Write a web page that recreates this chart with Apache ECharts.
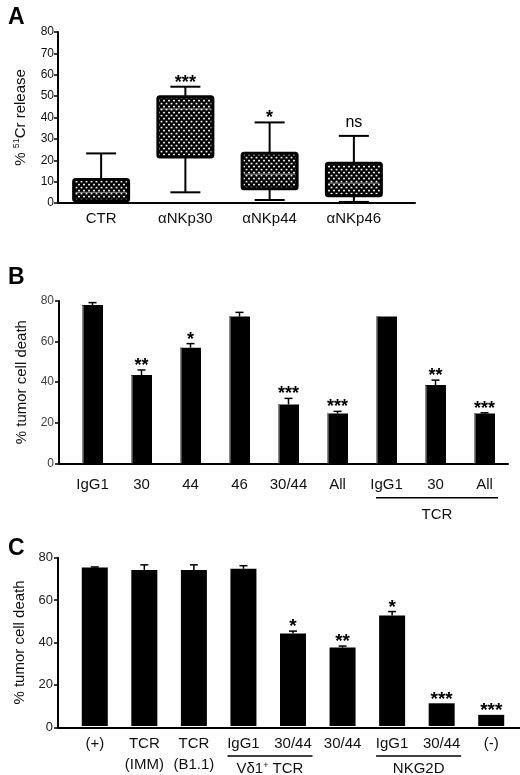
<!DOCTYPE html>
<html><head><meta charset="utf-8">
<script src="https://cdn.jsdelivr.net/npm/echarts@6/dist/echarts.min.js"></script>
<style>html,body{margin:0;padding:0;background:#fff}#c{width:520px;height:775px}</style>
</head><body><div id="c"></div>
<script>
// ---------- Panel A (box plots: [min, Q1, median, Q3, max]) ----------
const catsA = ['CTR', 'αNKp30', 'αNKp44', 'αNKp46'];
const boxA = [
  [0, 1, 5, 11, 23.2],
  [5, 21.5, 44, 49.7, 54.4],
  [1.4, 6.7, 13.5, 23.3, 37.7],
  [0.5, 3.4, 9.3, 18.6, 31.4]
];
const sigA = ['', '***', '*', 'ns'];
const yMaxA = 80, yStepA = 10;

// ---------- Panel B ----------
const catsB = ['IgG1', '30', '44', '46', '30/44', 'All', 'IgG1', '30', 'All'];
const valsB = [78, 43.5, 57, 72.3, 29, 24.5, 72.4, 38.6, 24.5];
const errB  = [1.2, 2.5, 2, 2.1, 3, 1.1, 0, 2.4, 0.4];
const sigB  = ['', '**', '*', '', '***', '***', '', '**', '***'];
const groupsB = [{ label: 'TCR', from: 6, to: 8 }];
const yMaxB = 80, yStepB = 20;

// ---------- Panel C ----------
const catsC = ['(+)', 'TCR\n(IMM)', 'TCR\n(B1.1)', 'IgG1', '30/44', '30/44', 'IgG1', '30/44', '(-)'];
const valsC = [75.3, 74.2, 74.2, 74.7, 44, 37.3, 52.5, 10.8, 5.3];
const errC  = [0.3, 2.4, 2.4, 1.5, 1.1, 0.7, 1.9, 0, 0];
const sigC  = ['', '', '', '', '*', '**', '*', '***', '***'];
const groupsC = [{ label: 'Vδ1{s|+} TCR', from: 3, to: 4 }, { label: 'NKG2D', from: 6, to: 7 }];
const yMaxC = 80, yStepC = 20;

const FONT = '"Liberation Sans", Arial, Helvetica, sans-serif';

// dotted pattern for boxes
const pat = document.createElement('canvas');
pat.width = 5; pat.height = 6;
(function () {
  const g = pat.getContext('2d');
  g.fillStyle = '#000'; g.fillRect(0, 0, 5, 6);
  g.fillStyle = '#fff';
  g.fillRect(0.6, 0.8, 1.8, 1.6);
  g.fillRect(3.1, 3.8, 1.8, 1.6);
})();
const patFill = { image: pat, repeat: 'repeat' };

const chart = echarts.init(document.getElementById('c'), null, { renderer: 'canvas' });

function frameY(idx, max, step, labelColor, labelSize, labelMargin, name, nameGap) {
  return {
    type: 'value', gridIndex: idx, min: 0, max: max, interval: step,
    axisLine: { show: true, lineStyle: { color: '#000', width: 2 } },
    axisTick: { show: true, length: 4, lineStyle: { color: '#000', width: 1.5 } },
    axisLabel: { color: labelColor, fontSize: labelSize, fontFamily: FONT, margin: labelMargin },
    splitLine: { show: false },
    name: name, nameLocation: 'middle', nameGap: nameGap,
    nameTextStyle: {
      color: '#111', fontSize: 15, fontFamily: FONT,
      rich: { s: { fontSize: 9, fontFamily: FONT, color: '#111', lineHeight: 10, verticalAlign: 'top' },
              n: { fontSize: 15, fontFamily: FONT, color: '#111', lineHeight: 18 } }
    }
  };
}
function frameX(idx) {
  return {
    type: 'value', gridIndex: idx, min: 0, max: 1,
    axisLine: { show: true, onZero: false, lineStyle: { color: '#000', width: 2 } },
    axisTick: { show: false }, axisLabel: { show: false }, splitLine: { show: false }
  };
}
function dataX(idx, cats, margin, lineHeight) {
  return {
    type: 'category', gridIndex: idx, data: cats,
    axisLine: { show: false }, axisTick: { show: false }, splitLine: { show: false },
    axisLabel: { color: '#111', fontSize: 15, fontFamily: FONT, margin: margin, interval: 0, lineHeight: lineHeight }
  };
}
function dataY(idx, max) {
  return { type: 'value', gridIndex: idx, min: 0, max: max, show: false, splitLine: { show: false } };
}

function sigText(t, x, top, size) {
  if (!t) return null;
  const isNs = t === 'ns';
  return {
    type: 'text',
    style: {
      text: t, x: x, y: top + (isNs ? -13 : -4),
      align: 'center', verticalAlign: 'middle',
      font: (isNs ? 'normal 16px ' : 'bold ' + size + 'px ') + FONT, fill: '#000'
    }
  };
}

function errRender(vals, errs, sigs, starSize, edgeBarWidth) {
  return function (params, api) {
    const i = params.dataIndex;
    const v = vals[i], e = errs[i];
    const zero = api.coord([i, 0]);
    const base = api.coord([i, v]);
    const top = api.coord([i, v + e]);
    const children = [];
    if (edgeBarWidth) {
      const ex = base[0] - edgeBarWidth / 2 + 0.8;
      children.push({ type: 'line', shape: { x1: ex, y1: zero[1], x2: ex, y2: base[1] + 0.5 },
        style: { stroke: '#9a9a9a', lineWidth: 1.4 } });
    }
    if (e > 0) {
      children.push({ type: 'line', shape: { x1: base[0], y1: base[1], x2: top[0], y2: top[1] }, style: { stroke: '#000', lineWidth: 1.5 } });
      children.push({ type: 'line', shape: { x1: top[0] - 4, y1: top[1], x2: top[0] + 4, y2: top[1] }, style: { stroke: '#000', lineWidth: 1.5 } });
    }
    const t = sigText(sigs[i], top[0], top[1], starSize);
    if (t) children.push(t);
    return { type: 'group', children: children };
  };
}

function boxRender(params, api) {
  const i = params.dataIndex;
  const d = boxA[i];
  const x = api.coord([i, 0])[0];
  const y = v => api.coord([i, v])[1];
  const w = 55, cap = 30;
  const blk = { stroke: '#000', lineWidth: 2 };
  const ch = [
    { type: 'line', shape: { x1: x, y1: y(d[3]), x2: x, y2: y(d[4]) }, style: blk },
    { type: 'line', shape: { x1: x - cap / 2, y1: y(d[4]), x2: x + cap / 2, y2: y(d[4]) }, style: blk },
    { type: 'line', shape: { x1: x, y1: y(d[1]), x2: x, y2: y(d[0]) }, style: blk },
    { type: 'line', shape: { x1: x - cap / 2, y1: y(d[0]), x2: x + cap / 2, y2: y(d[0]) }, style: blk },
    { type: 'rect', shape: { x: x - w / 2, y: y(d[3]), width: w, height: y(d[1]) - y(d[3]), r: 2 },
      style: { fill: patFill, stroke: '#000', lineWidth: 3 } },
    { type: 'line', shape: { x1: x - w / 2 + 2, y1: y(d[2]), x2: x + w / 2 - 2, y2: y(d[2]) },
      style: { stroke: 'rgba(255,255,255,0.55)', lineWidth: 1 } }
  ];
  const t = sigText(sigA[i], x, y(d[4]), 18);
  if (t) ch.push(t);
  return { type: 'group', children: ch };
}

const option = {
  backgroundColor: '#fff',
  animation: false,
  title: [
    { text: 'A', left: 3, top: 1, textStyle: { fontSize: 23, fontWeight: 'bold', fontFamily: FONT, color: '#000' } },
    { text: 'B', left: 3, top: 261, textStyle: { fontSize: 23, fontWeight: 'bold', fontFamily: FONT, color: '#000' } },
    { text: 'C', left: 3, top: 532, textStyle: { fontSize: 23, fontWeight: 'bold', fontFamily: FONT, color: '#000' } }
  ],
  grid: [
    { left: 58, right: 105, top: 32, height: 171 },
    { left: 59, width: 337, top: 32, height: 171 },
    { left: 59, right: 12, top: 301, height: 162.3 },
    { left: 68, right: 11, top: 301, height: 162.3 },
    { left: 58, right: 0, top: 557.7, height: 169.6 },
    { left: 70, right: 4, top: 557.7, height: 169.6 }
  ],
  xAxis: [
    frameX(0), dataX(1, catsA, 7, 17),
    frameX(2), dataX(3, catsB, 13, 17),
    frameX(4), dataX(5, catsC, 7, 21)
  ],
  yAxis: [
    frameY(0, yMaxA, yStepA, '#111', 12, 4, '{n|% }{s|51}{n|Cr release}', 28),
    dataY(1, yMaxA),
    frameY(2, yMaxB, yStepB, '#444', 12, 5, '% tumor cell death', 29),
    dataY(3, yMaxB),
    frameY(4, yMaxC, yStepC, '#222', 13, 5, '% tumor cell death', 28),
    dataY(5, yMaxC)
  ],
  series: [
    { type: 'custom', xAxisIndex: 1, yAxisIndex: 1, renderItem: boxRender,
      data: boxA.map((d, i) => [i].concat(d)), encode: { x: 0, y: [1, 2, 3, 4, 5] }, z: 3 },
    { type: 'bar', xAxisIndex: 3, yAxisIndex: 3, data: valsB, barWidth: 21,
      itemStyle: { color: '#000', borderColor: '#000', borderWidth: 0 } },
    { type: 'custom', xAxisIndex: 3, yAxisIndex: 3, renderItem: errRender(valsB, errB, sigB, 18, 21),
      data: valsB.map((v, i) => [i, v + errB[i]]), encode: { x: 0, y: 1 }, z: 4 },
    { type: 'bar', xAxisIndex: 5, yAxisIndex: 5, data: valsC, barWidth: 26,
      itemStyle: { color: '#000' } },
    { type: 'custom', xAxisIndex: 5, yAxisIndex: 5, renderItem: errRender(valsC, errC, sigC, 19, 0),
      data: valsC.map((v, i) => [i, v + errC[i]]), encode: { x: 0, y: 1 }, z: 4 }
  ]
};
chart.setOption(option);

// group brackets under category labels, positioned through the axes
function groupGraphics(groups, xAxisIndex, yAxisIndex, padL, padR, lineOff, labelOff) {
  const out = [];
  const y0 = chart.convertToPixel({ yAxisIndex: yAxisIndex }, 0);
  groups.forEach(g => {
    const x1 = chart.convertToPixel({ xAxisIndex: xAxisIndex }, g.from) - padL;
    const x2 = chart.convertToPixel({ xAxisIndex: xAxisIndex }, g.to) + padR;
    out.push({ type: 'line', shape: { x1: x1, y1: y0 + lineOff, x2: x2, y2: y0 + lineOff },
      style: { stroke: '#000', lineWidth: 1.6 }, silent: true });
    out.push({ type: 'text', x: (x1 + x2) / 2, y: y0 + labelOff,
      style: { text: g.label, align: 'center', verticalAlign: 'middle', fill: '#111',
        font: '15px ' + FONT,
        rich: { s: { fontSize: 9, fontFamily: FONT, fill: '#111', lineHeight: 9, verticalAlign: 'top' } } },
      silent: true });
  });
  return out;
}
chart.setOption({
  graphic: groupGraphics(groupsB, 3, 3, 10.5, 13.5, 34.4, 52)
    .concat(groupGraphics(groupsC, 5, 5, 16, 19.5, 30, 42.5))
});
</script>
</body></html>
